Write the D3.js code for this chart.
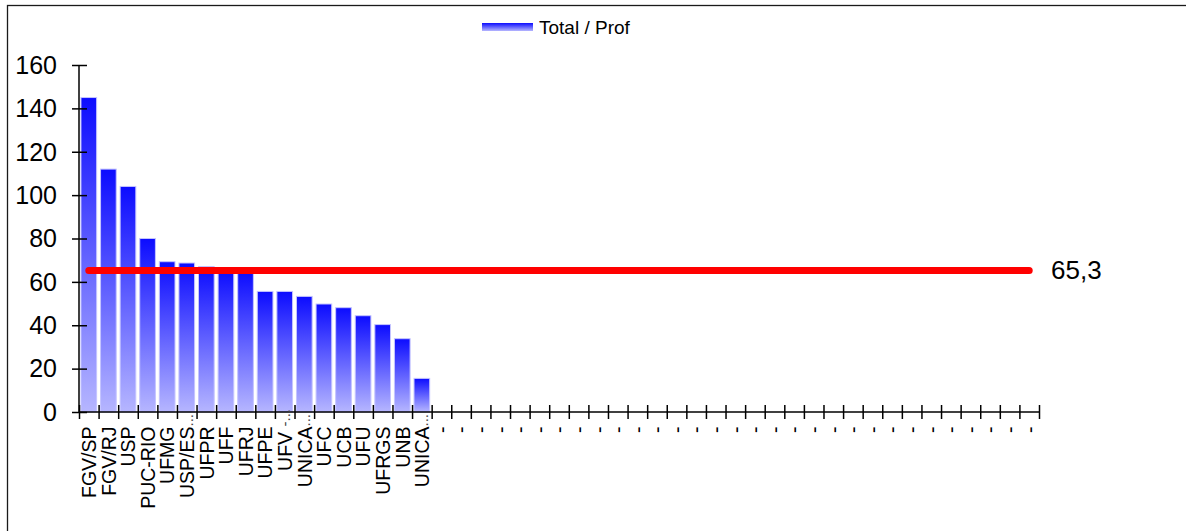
<!DOCTYPE html>
<html>
<head>
<meta charset="utf-8">
<script src="https://cdn.jsdelivr.net/npm/d3@7"></script>
<style>
  html, body { margin: 0; padding: 0; background: #fff; }
  svg { display: block; font-family: "Liberation Sans", Arial, sans-serif; }
</style>
</head>
<body>
<svg id="chart" width="1186" height="531"></svg>
<script>
// ---- data ----
const categories = [
  "FGV/SP", "FGV/RJ", "USP", "PUC-RIO", "UFMG", "USP/ES...", "UFPR", "UFF", "UFRJ",
  "UFPE", "UFV -...", "UNICA...", "UFC", "UCB", "UFU", "UFRGS", "UNB", "UNICA...",
  "-", "-", "-", "-", "-", "-", "-", "-", "-", "-", "-", "-", "-", "-", "-", "-",
  "-", "-", "-", "-", "-", "-", "-", "-", "-", "-", "-", "-", "-", "-", "-"
];
const values = [145, 112, 104, 80, 69.3, 68.7, 67, 65.5, 64.5,
                55.6, 55.6, 53.3, 49.8, 48.1, 44.4, 40.3, 33.8, 15.5];
const averageValue = 65.3;
const averageLabel = "65,3";
const yTicks = [0, 20, 40, 60, 80, 100, 120, 140, 160];
const seriesName = "Total / Prof";

// ---- layout ----
const svg = d3.select("#chart");
const plotLeft = 79, plotRight = 1039, plotTop = 65, plotBottom = 412;

const x = d3.scaleBand()
  .domain(d3.range(categories.length))
  .range([plotLeft, plotRight])
  .paddingInner(0.2)
  .paddingOuter(0.1);
const xEdge = d3.scaleLinear().domain([0, categories.length]).range([plotLeft, plotRight]);
const y = d3.scaleLinear().domain([0, 160]).range([plotBottom, plotTop]);

// frame
svg.append("rect")
  .attr("x", 7.5).attr("y", 5.5).attr("width", 1300).attr("height", 600)
  .attr("fill", "none").attr("stroke", "#1a1a1a").attr("stroke-width", 1.3);

// gradient
const defs = svg.append("defs");
const grad = defs.append("linearGradient").attr("id", "barGrad")
  .attr("x1", 0).attr("y1", 0).attr("x2", 0).attr("y2", 1);
grad.append("stop").attr("offset", "0%").attr("stop-color", "#0c0cff");
grad.append("stop").attr("offset", "100%").attr("stop-color", "#b6b6ff");

// bars
svg.append("g").selectAll("rect").data(values).join("rect")
  .attr("x", (d, i) => x(i))
  .attr("y", d => y(d))
  .attr("width", x.bandwidth())
  .attr("height", d => y(0) - y(d))
  .attr("fill", "url(#barGrad)")
  .attr("stroke", "#c4c4ff")
  .attr("stroke-width", 1);

// y axis
const yAxis = svg.append("g").attr("transform", `translate(${plotLeft},0)`)
  .call(d3.axisLeft(y).tickValues(yTicks).tickSize(7).tickFormat(""));
yAxis.select(".domain").attr("d", `M0,${y(160)}V${y(0)}`).attr("stroke", "#000").attr("stroke-width", 1.5);
yAxis.selectAll(".tick line").attr("x1", -7).attr("x2", 8).attr("stroke", "#000").attr("stroke-width", 1.5);
svg.append("g").selectAll("text").data(yTicks).join("text")
  .attr("x", 57).attr("y", d => y(d)).attr("dy", "0.35em")
  .attr("text-anchor", "end").attr("font-size", 25).attr("fill", "#000")
  .text(d => d);

// x axis
const xAxis = svg.append("g").attr("transform", `translate(0,${plotBottom})`)
  .call(d3.axisBottom(xEdge).tickValues(d3.range(categories.length + 1)).tickSize(7).tickFormat(""));
xAxis.select(".domain").attr("d", `M${plotLeft},0H${plotRight}`).attr("stroke", "#000").attr("stroke-width", 1.5);
xAxis.selectAll(".tick line").attr("y1", -7).attr("y2", 7).attr("stroke", "#000").attr("stroke-width", 1.5);

// category labels (rotated)
const labelTop = 426.5;
const lab = svg.append("g").selectAll("g").data(categories).join("g")
  .attr("transform", (d, i) => `translate(${x(i) + x.bandwidth() / 2 + 0.5},${labelTop}) rotate(-90)`);
lab.each(function(d) {
  const m = d.match(/^(.*?\s?)(-?\.\.\.)$/);
  const main = m ? m[1] : d;
  const over = m ? m[2] : null;
  const g = d3.select(this);
  g.append("text").attr("text-anchor", "end").attr("dy", "0.35em")
    .attr("font-size", 19.5).attr("fill", "#000")
    .style("white-space", "pre").text(main);
  if (over) {
    g.append("text").attr("text-anchor", "start").attr("dy", "0.35em")
      .attr("font-size", 15).attr("fill", "#444")
      .style("white-space", "pre").text(over);
  }
});

// average line
svg.append("line")
  .attr("x1", x(0) + x.bandwidth() / 2)
  .attr("x2", x(categories.length - 1) + x.bandwidth() / 2)
  .attr("y1", y(averageValue)).attr("y2", y(averageValue))
  .attr("stroke", "#ff0000").attr("stroke-width", 7).attr("stroke-linecap", "round");
svg.append("text")
  .attr("x", 1051).attr("y", y(averageValue)).attr("dy", "0.35em")
  .attr("font-size", 26).attr("fill", "#000").text(averageLabel);

// legend
const legGrad = defs.append("linearGradient").attr("id", "legGrad")
  .attr("x1", 0).attr("y1", 0).attr("x2", 0).attr("y2", 1);
legGrad.append("stop").attr("offset", "0%").attr("stop-color", "#0c0cff");
legGrad.append("stop").attr("offset", "100%").attr("stop-color", "#b6b6ff");
svg.append("rect").attr("x", 482).attr("y", 23).attr("width", 51).attr("height", 8)
  .attr("fill", "url(#legGrad)");
svg.append("text").attr("x", 539).attr("y", 27).attr("dy", "0.35em")
  .attr("font-size", 19).attr("fill", "#000").text(seriesName);
</script>
</body>
</html>
